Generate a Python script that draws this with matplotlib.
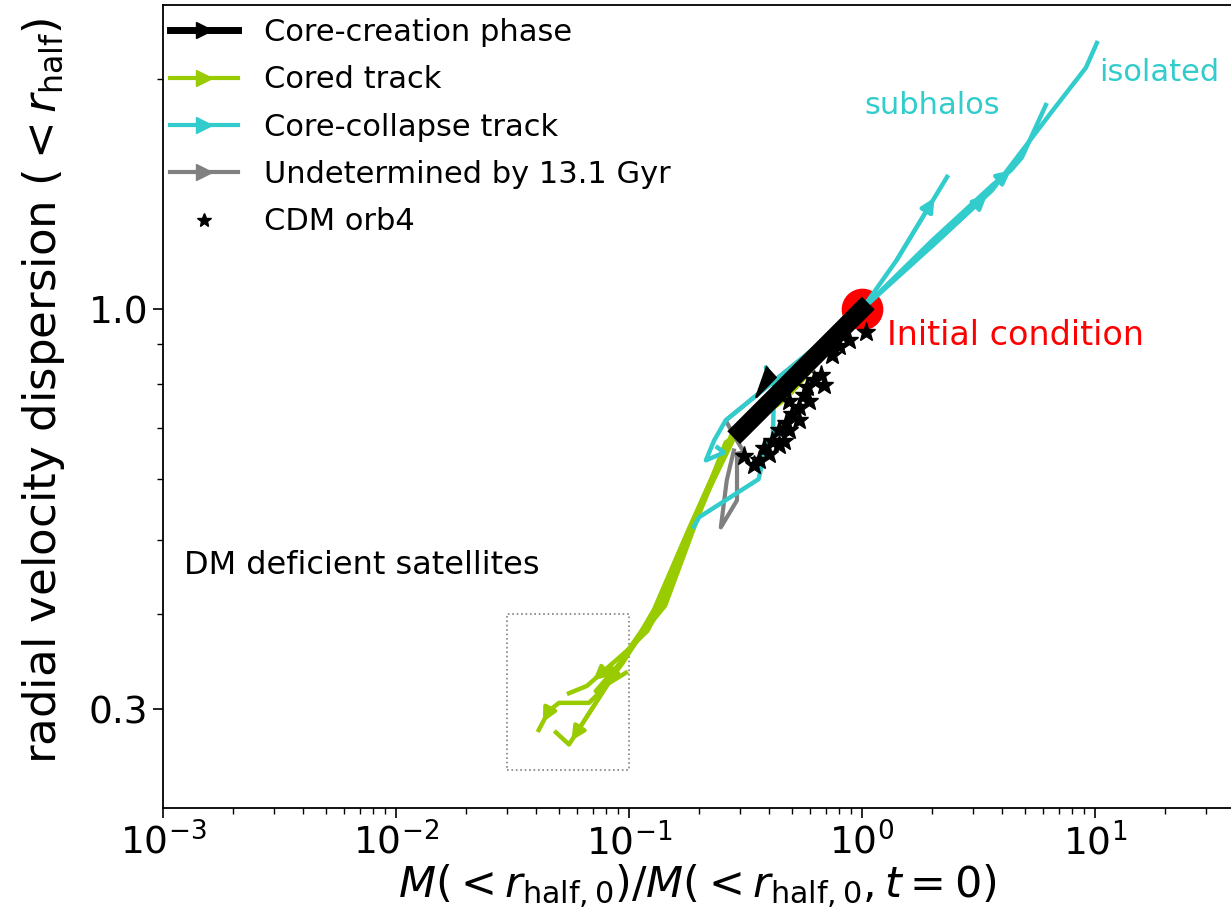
import numpy as np
import matplotlib.pyplot as plt
from matplotlib.lines import Line2D

# colours
c_cyan = '#33cccc'
c_green = '#99cc00'
c_gray = 'gray'

# core-creation phase (black)
core_x = [1.0, 0.30]
core_y = [1.0, 0.693]
spike_x = [0.351, 0.39, 0.427]
spike_y = [0.767, 0.84, 0.815]

# cored tracks (green)
g1_x = [1.0, 0.5, 0.29, 0.19, 0.135, 0.10, 0.0845, 0.066, 0.0553]
g1_y = [1.0, 0.78, 0.69, 0.53, 0.41, 0.36, 0.344, 0.322, 0.315]
g2_x = [1.0, 0.5, 0.28, 0.185, 0.13, 0.094, 0.0766, 0.0674, 0.0501, 0.0454, 0.041]
g2_y = [1.0, 0.78, 0.68, 0.52, 0.405, 0.345, 0.318, 0.306, 0.306, 0.299, 0.282]
g3_x = [1.0, 0.52, 0.275, 0.2, 0.143, 0.114, 0.09, 0.0553, 0.0486]
g3_y = [1.0, 0.79, 0.685, 0.54, 0.41, 0.377, 0.34, 0.27, 0.28]
g4_x = [1.0, 0.48, 0.265, 0.18, 0.128, 0.105, 0.088, 0.072, 0.097]
g4_y = [1.0, 0.77, 0.67, 0.515, 0.405, 0.365, 0.34, 0.317, 0.335]
g5_x = [1.0, 0.46, 0.26, 0.205, 0.15, 0.12, 0.10]
g5_y = [1.0, 0.76, 0.67, 0.555, 0.43, 0.38, 0.36]

# core-collapse tracks (cyan)
c1_x = [1.0, 1.41, 2.32]
c1_y = [1.0, 1.16, 1.49]
c2_x = [1.0, 2.0, 3.6, 4.36, 4.86, 6.16]
c2_y = [1.0, 1.23, 1.45, 1.52, 1.58, 1.85]
c3_x = [1.0, 2.0, 3.61, 6.5, 9.15, 10.2]
c3_y = [1.0, 1.21, 1.43, 1.81, 2.07, 2.23]
c4_x = [1.0, 0.26, 0.232, 0.214, 0.256, 0.24]
c4_y = [1.0, 0.716, 0.674, 0.635, 0.65, 0.66]
c5_x = [1.0, 0.45, 0.387, 0.42, 0.415, 0.39, 0.36, 0.2, 0.19]
c5_y = [1.0, 0.77, 0.84, 0.80, 0.68, 0.665, 0.60, 0.535, 0.52]

# undetermined (gray)
u_x = [1.0, 0.26, 0.291, 0.312, 0.291, 0.291, 0.248, 0.263, 0.282]
u_y = [1.0, 0.716, 0.674, 0.65, 0.648, 0.563, 0.519, 0.598, 0.654]

# CDM orb4 stars
cdm_x = [1.04, 0.88, 0.797, 0.743, 0.667, 0.622, 0.581, 0.537, 0.50, 0.472,
         0.44, 0.411, 0.399, 0.361, 0.344, 0.486, 0.564, 0.44, 0.38, 0.312,
         0.537, 0.463, 0.486, 0.592, 0.687]
cdm_y = [0.933, 0.911, 0.897, 0.871, 0.82, 0.808, 0.791, 0.745, 0.731, 0.71,
         0.695, 0.674, 0.648, 0.635, 0.626, 0.76, 0.772, 0.664, 0.658, 0.644,
         0.716, 0.674, 0.695, 0.76, 0.796]


def arrow(ax, xs, ys, i, t, color):
    lx = np.log10(xs[i]) + t * (np.log10(xs[i+1]) - np.log10(xs[i]))
    ly = np.log10(ys[i]) + t * (np.log10(ys[i+1]) - np.log10(ys[i]))
    ax.annotate('', xy=(10**lx, 10**ly), xytext=(xs[i], ys[i]),
                arrowprops=dict(arrowstyle='-|>', color=color, lw=3,
                                mutation_scale=20, shrinkA=0, shrinkB=0),
                zorder=4)


fig = plt.figure(figsize=(12.31, 9.17), dpi=100)
ax = fig.add_axes([163/1231, 109/917, 1 - 163/1231, 803/917])
ax.set_xscale('log')
ax.set_yscale('log')

ax.plot([1.0], [1.0], 'o', color='red', ms=29, zorder=1)

for xs, ys in [(g1_x, g1_y), (g2_x, g2_y), (g3_x, g3_y), (g4_x, g4_y), (g5_x, g5_y)]:
    ax.plot(xs, ys, color=c_green, lw=3.2, zorder=2)
arrow(ax, g1_x, g1_y, 6, 0.75, c_green)
arrow(ax, g2_x, g2_y, 9, 0.6, c_green)
arrow(ax, g3_x, g3_y, 6, 0.95, c_green)
arrow(ax, g4_x, g4_y, 6, 0.6, c_green)

ax.plot(u_x, u_y, color=c_gray, lw=3, zorder=2.5)

for xs, ys in [(c1_x, c1_y), (c2_x, c2_y), (c3_x, c3_y), (c4_x, c4_y), (c5_x, c5_y)]:
    ax.plot(xs, ys, color=c_cyan, lw=3.2, zorder=3)
arrow(ax, c1_x, c1_y, 1, 0.75, c_cyan)
arrow(ax, c2_x, c2_y, 2, 1.0, c_cyan)
arrow(ax, c3_x, c3_y, 1, 0.92, c_cyan)

ax.plot(core_x, core_y, color='k', lw=13, solid_capstyle='projecting', zorder=5)
ax.fill(spike_x, spike_y, color='k', lw=1.5, zorder=4.5)

ax.plot(cdm_x, cdm_y, '*', color='k', ms=14, ls='none', zorder=6)

# box around the DM deficient satellites
ax.plot([0.03, 0.1, 0.1, 0.03, 0.03], [0.25, 0.25, 0.4, 0.4, 0.25],
        ls=':', color='gray', lw=1.2, zorder=1)

ax.text(1.28, 0.925, 'Initial condition', color='red', fontsize=24, va='center')
ax.text(1.02, 1.85, 'subhalos', color=c_cyan, fontsize=22, va='center')
ax.text(10.4, 2.04, 'isolated', color=c_cyan, fontsize=22, va='center')
ax.text(0.00123, 0.463, 'DM deficient satellites', color='k', fontsize=23, va='center')

ax.set_xlim(1e-3, 38.4)
ax.set_ylim(0.223, 2.50)
ax.set_yticks([0.3, 1.0])
ax.set_yticklabels(['0.3', '1.0'])
ax.yaxis.set_minor_formatter(plt.NullFormatter())
ax.tick_params(which='major', labelsize=27, length=7, width=1.2)
ax.tick_params(which='minor', length=4, width=1)
ax.spines['right'].set_visible(False)
for s in ['left', 'top', 'bottom']:
    ax.spines[s].set_linewidth(1.3)

ax.set_xlabel(r'$M(<r_{\rm half,0})/M(<r_{\rm half,0},t=0)$', fontsize=31, labelpad=0)
ax.set_ylabel(r'radial velocity dispersion $(<r_{\rm half})$', fontsize=32.5)
ax.yaxis.set_label_coords(-0.09, 0.52)

handles = [
    Line2D([], [], color='k', lw=5, marker='>', ms=12),
    Line2D([], [], color=c_green, lw=3, marker='>', ms=12),
    Line2D([], [], color=c_cyan, lw=3, marker='>', ms=12),
    Line2D([], [], color=c_gray, lw=3, marker='>', ms=12),
    Line2D([], [], color='k', ls='none', marker='*', ms=10),
]
labels = ['Core-creation phase', 'Cored track', 'Core-collapse track',
          'Undetermined by 13.1 Gyr', 'CDM orb4']
ax.legend(handles, labels, loc='upper left', bbox_to_anchor=(-0.003, 0.997),
          frameon=False, fontsize=22, handlelength=2.2, handletextpad=0.85,
          labelspacing=0.6, borderaxespad=0.0, borderpad=0.35, numpoints=1)

fig.savefig('out.png', dpi=100)
